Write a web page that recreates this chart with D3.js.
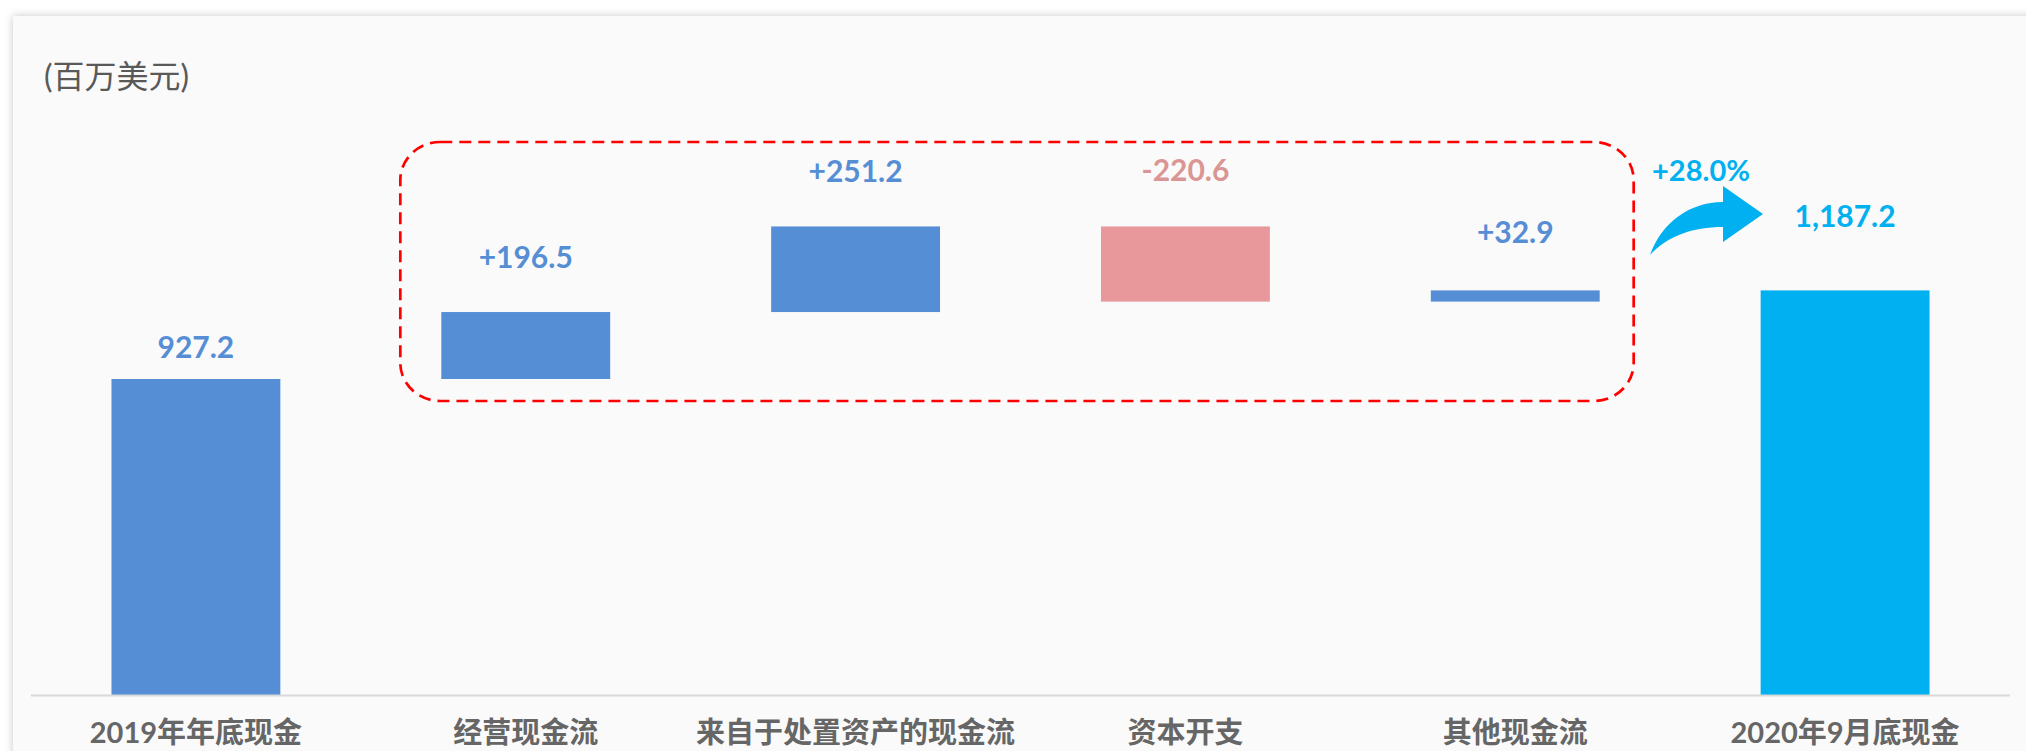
<html>
<head>
<meta charset="utf-8">
<script src="https://d3js.org/d3.v7.min.js"></script>
<style>
body { margin: 0; background: #ffffff; overflow: hidden; }
svg { display: block; }
text { font-family: Lato, "Noto Sans CJK SC", sans-serif; }
</style>
</head>
<body>
<svg></svg>
<script>

var width = 2026;
var height = 751;

// Chart data (百万美元)
var categories = ["2019年年底现金", "经营现金流", "来自于处置资产的现金流", "资本开支", "其他现金流", "2020年9月底现金"];
var values = [927.2, 196.5, 251.2, -220.6, 32.9, 1187.2];
var kinds = ["start", "delta", "delta", "delta", "delta", "end"];
var valueLabels = ["927.2", "+196.5", "+251.2", "-220.6", "+32.9", "1,187.2"];
var growthLabel = "+28.0%";
var unitLabel = "(百万美元)";

var svg = d3.select("svg").attr("width", width).attr("height", height);

// Shadowed panel
var defs = svg.append("defs");
var shadow = defs.append("filter").attr("id", "shadow")
	.attr("x", "-5%").attr("y", "-5%").attr("width", "110%").attr("height", "110%");
shadow.append("feDropShadow")
	.attr("dx", 0).attr("dy", 0).attr("stdDeviation", 4)
	.attr("flood-color", "#000").attr("flood-opacity", 0.22);

svg.append("rect")
	.attr("x", 13).attr("y", 16)
	.attr("width", width + 40).attr("height", height + 40)
	.style("fill", "#fafafa")
	.attr("filter", "url(#shadow)");

// Scales
var xScale = d3.scaleBand().domain(categories).range([31, 2010]).paddingInner(0.488).paddingOuter(0.244);
var yScale = d3.scaleLinear().domain([0, 1000]).range([695, 695 - 340.8]);

// Waterfall: work out where each bar starts and ends
var running = 0;
var bars = categories.map(function (c, i) {
	var lo, hi;
	if (kinds[i] === "delta") {
		lo = running;
		hi = running + values[i];
		running = hi;
	} else {
		lo = 0;
		hi = values[i];
		running = values[i];
	}
	return { cat: c, kind: kinds[i], value: values[i], label: valueLabels[i], y0: Math.min(lo, hi), y1: Math.max(lo, hi), top: Math.max(lo, hi) };
});

function barColor(d) {
	if (d.kind === "end") return "#00b0f0";
	if (d.value < 0) return "#e8979a";
	return "#558ed5";
}
function labelColor(d) {
	if (d.kind === "end") return "#00b0f0";
	if (d.value < 0) return "#da9694";
	return "#558ed5";
}

// Dashed box round the movements
var boxLeft = xScale(categories[1]) - 41;
var boxRight = xScale(categories[4]) + xScale.bandwidth() + 34;
svg.append("rect")
	.attr("x", boxLeft).attr("y", 142)
	.attr("width", boxRight - boxLeft).attr("height", yScale(values[0]) + 22 - 142)
	.attr("rx", 40).attr("ry", 38)
	.style("fill", "none")
	.style("stroke", "#ff0000")
	.style("stroke-width", 2.7)
	.style("stroke-dasharray", "12,7");

// Bars
svg.selectAll("rect.bar").data(bars).enter().append("rect")
	.attr("class", "bar")
	.attr("x", function (d) { return xScale(d.cat); })
	.attr("width", xScale.bandwidth())
	.attr("y", function (d) { return yScale(d.y1); })
	.attr("height", function (d) { return yScale(d.y0) - yScale(d.y1); })
	.style("fill", barColor);

// Baseline
svg.append("line")
	.attr("x1", 31).attr("x2", 2010)
	.attr("y1", yScale(0) + 0.5).attr("y2", yScale(0) + 0.5)
	.style("stroke", "#d9d9d9")
	.style("stroke-width", 2);

// Value labels (distance above the bar top differs a bit per bar)
var labelLift = [32, 55, 55, 56, 58, 74];
svg.selectAll("text.value").data(bars).enter().append("text")
	.attr("class", "value")
	.attr("x", function (d) { return xScale(d.cat) + xScale.bandwidth() / 2; })
	.attr("y", function (d, i) { return yScale(d.top) - labelLift[i]; })
	.attr("dy", "0.36em")
	.attr("text-anchor", "middle")
	.style("font-size", "30px")
	.style("font-weight", "bold")
	.style("fill", labelColor)
	.text(function (d) { return d.label; });

// Category labels
svg.selectAll("text.cat").data(categories).enter().append("text")
	.attr("class", "cat")
	.attr("x", function (d) { return xScale(d) + xScale.bandwidth() / 2; })
	.attr("y", 733)
	.attr("dy", "0.36em")
	.attr("text-anchor", "middle")
	.style("font-size", "29px")
	.style("font-weight", "bold")
	.style("fill", "#666666")
	.text(function (d) { return d; });

// Unit label
svg.append("text")
	.attr("x", 44).attr("y", 76)
	.attr("dy", "0.36em")
	.style("font-size", "32px")
	.style("font-weight", "normal")
	.style("fill", "#595959")
	.text(unitLabel);

// Curved growth arrow and its label
svg.append("path")
	.attr("d", "M1650,255 C1662,222 1690,202 1723,202 L1723,186 L1763,214 L1723,242 L1723,227 C1692,227 1668,236 1650,255 Z")
	.style("fill", "#00b0f0");

svg.append("text")
	.attr("x", 1701).attr("y", 171)
	.attr("dy", "0.36em")
	.attr("text-anchor", "middle")
	.style("font-size", "29px")
	.style("font-weight", "bold")
	.style("fill", "#00b0f0")
	.text(growthLabel);

</script>
</body>
</html>
